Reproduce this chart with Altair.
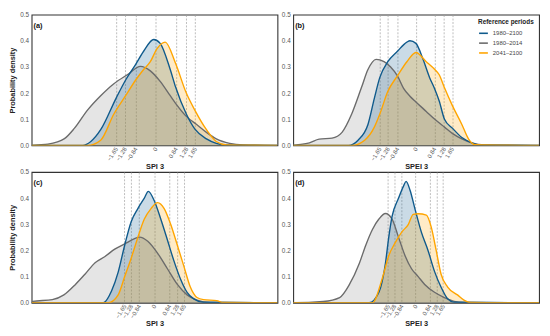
import altair as alt
import pandas as pd

PERIODS = ["1980–2100", "1980–2014", "2041–2100"]
LINE_COLORS = ["#0f5a8c", "#6b6b6b", "#ffa500"]
FILL_COLORS = ["#0f5a8c", "#8a8a8a", "#ffa500"]
TICKS = [-1.65, -1.28, -0.84, 0, 0.84, 1.28, 1.65]
Y_TICKS = [0.0, 0.1, 0.2, 0.3, 0.4, 0.5]
PANELS = ["(a)", "(b)", "(c)", "(d)"]
X_TITLES = ["SPI 3", "SPEI 3", "SPI 3", "SPEI 3"]
X_DOMAINS = [[-5.17, 5.08], [-5.58, 5.6], [-6.8, 6.83], [-7.35, 7.42]]

# ---- panel (a)
A_BLUE_X = [-5.17, -3.04, -2.70, -2.29, -1.65, -1.25, -0.83, -0.50, -0.08, 0.19, 0.61, 0.83, 1.28, 1.64, 2.12, 2.53, 2.95, 5.08]
A_BLUE_Y = [0, 0, 0.015, 0.06, 0.18, 0.25, 0.31, 0.36, 0.405, 0.39, 0.29, 0.224, 0.12, 0.062, 0.025, 0.008, 0.002, 0]
A_GRAY_X = [-5.17, -4.9, -4.49, -3.80, -3.39, -2.84, -2.29, -1.74, -1.18, -0.63, -0.22, 0.19, 0.61, 0.88, 1.29, 1.71, 2.12, 2.53, 3.09, 3.64, 5.08]
A_GRAY_Y = [0, 0.002, 0.005, 0.026, 0.065, 0.135, 0.19, 0.236, 0.27, 0.302, 0.285, 0.245, 0.19, 0.155, 0.11, 0.08, 0.05, 0.025, 0.008, 0.002, 0]
A_ORANGE_X = [-5.17, -2.84, -2.29, -1.74, -1.25, -0.83, -0.50, -0.22, 0.06, 0.40, 0.83, 1.28, 1.64, 2.12, 2.53, 2.95, 5.08]
A_ORANGE_Y = [0, 0, 0.02, 0.12, 0.19, 0.25, 0.29, 0.32, 0.37, 0.395, 0.314, 0.20, 0.134, 0.06, 0.015, 0.002, 0]

# ---- panel (b)
B_BLUE_X = [-5.58, -3.07, -2.63, -2.18, -1.89, -1.64, -1.28, -0.84, -0.41, -0.27, 0, 0.32, 0.62, 0.86, 1.06, 1.30, 1.67, 2.09, 2.54, 2.83, 5.6]
B_BLUE_Y = [0, 0, 0.02, 0.08, 0.18, 0.26, 0.32, 0.36, 0.395, 0.40, 0.39, 0.33, 0.26, 0.215, 0.17, 0.10, 0.065, 0.03, 0.01, 0.002, 0]
B_GRAY_X = [-5.58, -5.43, -4.84, -4.40, -3.81, -3.36, -2.92, -2.48, -2.18, -1.81, -1.45, -1.15, -0.84, -0.56, -0.27, 0, 0.47, 0.86, 1.30, 1.67, 2.09, 2.54, 3.13, 5.6]
B_GRAY_Y = [0, 0.002, 0.01, 0.024, 0.028, 0.05, 0.12, 0.22, 0.29, 0.329, 0.32, 0.30, 0.266, 0.218, 0.188, 0.166, 0.13, 0.10, 0.07, 0.045, 0.025, 0.01, 0.002, 0]
B_ORANGE_X = [-5.58, -2.92, -2.33, -1.89, -1.64, -1.28, -0.84, -0.41, 0, 0.47, 0.86, 1.06, 1.30, 1.67, 2.09, 2.39, 2.68, 5.6]
B_ORANGE_Y = [0, 0, 0.02, 0.07, 0.12, 0.206, 0.266, 0.32, 0.355, 0.32, 0.29, 0.27, 0.22, 0.15, 0.08, 0.025, 0.003, 0]

# ---- panel (c)
C_BLUE_X = [-6.8, -2.82, -2.37, -2.00, -1.64, -1.28, -0.91, -0.55, -0.33, 0, 0.36, 0.73, 1.09, 1.46, 1.82, 2.19, 2.73, 6.83]
C_BLUE_Y = [0, 0, 0.045, 0.117, 0.22, 0.31, 0.36, 0.40, 0.426, 0.39, 0.32, 0.24, 0.16, 0.09, 0.04, 0.015, 0.002, 0]
C_GRAY_X = [-6.8, -6.74, -5.65, -5.01, -4.37, -3.83, -3.28, -2.73, -2.19, -1.64, -1.09, -0.82, -0.36, 0.18, 0.73, 1.28, 1.82, 2.37, 3.10, 6.83]
C_GRAY_Y = [0, 0.005, 0.012, 0.03, 0.07, 0.11, 0.153, 0.177, 0.205, 0.225, 0.245, 0.251, 0.235, 0.19, 0.13, 0.07, 0.03, 0.01, 0.001, 0]
C_ORANGE_X = [-6.8, -2.55, -2.00, -1.64, -1.28, -0.91, -0.55, -0.18, 0.18, 0.55, 0.91, 1.28, 1.64, 2.00, 2.37, 2.73, 3.46, 3.83, 6.83]
C_ORANGE_Y = [0, 0, 0.03, 0.1, 0.17, 0.25, 0.32, 0.36, 0.383, 0.36, 0.30, 0.22, 0.14, 0.06, 0.02, 0.012, 0.008, 0.001, 0]

# ---- panel (d)
D_BLUE_X = [-7.35, -2.79, -2.20, -1.81, -1.61, -1.41, -1.02, -0.73, -0.57, -0.33, -0.04, 0.35, 0.75, 1.14, 1.53, 1.93, 2.32, 7.42]
D_BLUE_Y = [0, 0, 0.04, 0.15, 0.25, 0.33, 0.40, 0.445, 0.464, 0.43, 0.36, 0.27, 0.20, 0.12, 0.06, 0.015, 0.002, 0]
D_GRAY_X = [-7.35, -7.31, -5.54, -4.56, -3.97, -3.38, -2.99, -2.59, -2.20, -1.81, -1.41, -1.02, -0.63, -0.24, 0.16, 0.55, 1.14, 1.73, 2.32, 2.91, 7.42]
D_GRAY_Y = [0, 0, 0.005, 0.02, 0.07, 0.15, 0.22, 0.28, 0.32, 0.341, 0.32, 0.25, 0.18, 0.13, 0.10, 0.07, 0.04, 0.02, 0.005, 0.001, 0]
D_ORANGE_X = [-7.35, -2.59, -2.00, -1.61, -1.22, -0.83, -0.43, -0.14, 0.16, 0.65, 0.94, 1.24, 1.53, 1.93, 2.52, 2.91, 3.30, 7.42]
D_ORANGE_Y = [0, 0, 0.093, 0.18, 0.23, 0.27, 0.30, 0.338, 0.34, 0.335, 0.29, 0.20, 0.11, 0.06, 0.03, 0.01, 0.001, 0]

SERIES = {
    "(a)": [(A_BLUE_X, A_BLUE_Y), (A_GRAY_X, A_GRAY_Y), (A_ORANGE_X, A_ORANGE_Y)],
    "(b)": [(B_BLUE_X, B_BLUE_Y), (B_GRAY_X, B_GRAY_Y), (B_ORANGE_X, B_ORANGE_Y)],
    "(c)": [(C_BLUE_X, C_BLUE_Y), (C_GRAY_X, C_GRAY_Y), (C_ORANGE_X, C_ORANGE_Y)],
    "(d)": [(D_BLUE_X, D_BLUE_Y), (D_GRAY_X, D_GRAY_Y), (D_ORANGE_X, D_ORANGE_Y)],
}

# drawing order: grey first, then blue, orange on top
DRAW_ORDER = [1, 0, 2]

rows = []
for panel, lst in SERIES.items():
    for k in DRAW_ORDER:
        xs, ys = lst[k]
        for xv, yv in zip(xs, ys):
            rows.append({"panel": panel, "period": PERIODS[k], "x": xv, "y": yv})
df = pd.DataFrame(rows)

FONT = "Liberation Sans"


def make_panel(i):
    label = PANELS[i]
    d = df[df["panel"] == label]
    x = alt.X(
        "x:Q",
        scale=alt.Scale(domain=X_DOMAINS[i], nice=False, zero=False),
        axis=alt.Axis(
            values=TICKS, format=".3~g", labelAngle=-58, title=X_TITLES[i],
            grid=True, gridDash=[2, 1.5], gridColor="#a0a0a0", gridWidth=0.7,
            ticks=False, domain=False, labelFontSize=6, labelColor="#555555",
            labelPadding=2, titleFontSize=7.5, titleFontWeight="bold",
            titleColor="#222222", titleY=17, titleBaseline="top",
            labelOverlap=False, labelBound=False,
        ),
    )
    yaxis_kwargs = dict(
        values=Y_TICKS, format=".1f", ticks=False, domain=False, grid=False,
        labelFontSize=6.5, labelColor="#555555", labelPadding=3,
        titleFontSize=7.5, titleFontWeight="bold", titleColor="#222222",
        titlePadding=3,
    )
    if i % 2 == 0:
        yaxis = alt.Axis(title="Probability density", **yaxis_kwargs)
    else:
        yaxis = alt.Axis(title=None, **yaxis_kwargs)
    y = alt.Y("y:Q", scale=alt.Scale(domain=[0, 0.5], nice=False), axis=yaxis, stack=None)

    stroke_scale = alt.Scale(domain=PERIODS, range=LINE_COLORS)
    if i == 1:
        stroke = alt.Stroke(
            "period:N", scale=stroke_scale, sort=PERIODS,
            legend=alt.Legend(
                title="Reference periods", orient="top-right", offset=4,
                symbolType="stroke", symbolStrokeWidth=1.6, symbolSize=80,
                titleFontSize=6.5, titleFontWeight="bold", titleColor="#222222",
                labelFontSize=6, labelColor="#444444", rowPadding=1,
                titlePadding=2, padding=1,
            ),
        )
    else:
        stroke = alt.Stroke("period:N", scale=stroke_scale, legend=None)

    layers = []
    for k in DRAW_ORDER:
        layers.append(
            alt.Chart(d[d["period"] == PERIODS[k]])
            .mark_area(interpolate="monotone", color=FILL_COLORS[k], fillOpacity=0.22, clip=True)
            .encode(x=x, y=y)
        )
    layers.append(
        alt.Chart(d)
        .mark_line(interpolate="monotone", strokeWidth=1.4, clip=True)
        .encode(x=x, y=y, stroke=stroke)
    )
    return alt.layer(*layers).properties(
        width=250, height=133,
        title=alt.TitleParams(
            text=label, anchor="start", frame="group", orient="top",
            offset=-18, dx=2, fontSize=7.5, fontWeight="bold", color="#111111",
        ),
    )


chart = (
    alt.concat(*[make_panel(i) for i in range(4)], columns=2,
               spacing={"row": 27, "column": 16}, bounds="flush")
    .resolve_scale(stroke="independent", x="independent", y="independent")
    .resolve_legend(stroke="independent")
    .properties(padding={"left": 0, "top": 0, "right": 2, "bottom": 0})
    .configure(font=FONT)
    .configure_view(stroke="#333333", strokeWidth=1.1)
)

chart.save("out.html", embed_options={"renderer": "svg", "actions": False})
